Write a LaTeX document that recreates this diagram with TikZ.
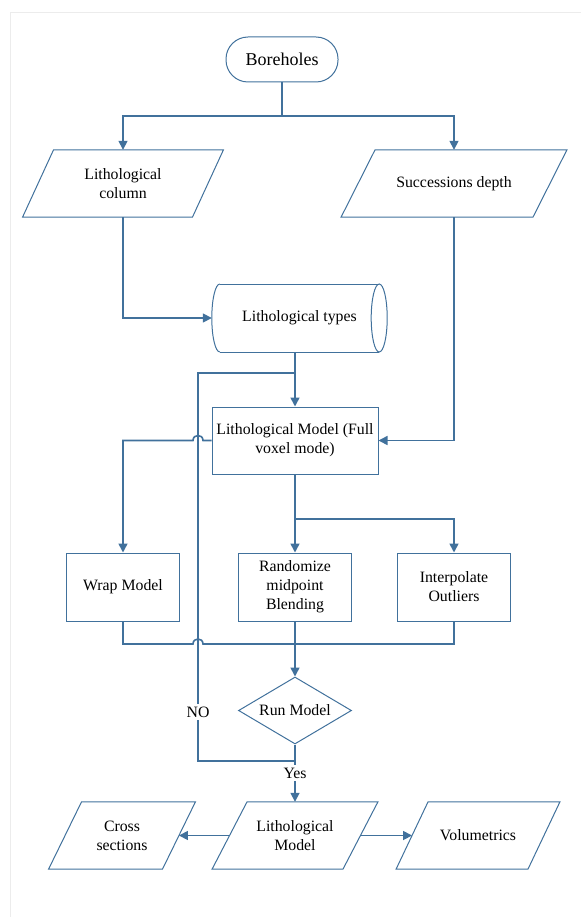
\documentclass[tikz,border=0pt]{standalone}
\usepackage{fontspec}
\setmainfont{Liberation Serif}
\usetikzlibrary{arrows.meta,shapes.geometric,calc}
\definecolor{flow}{RGB}{65,113,156}
\definecolor{frameg}{RGB}{236,236,236}
\tikzset{
  txt/.style={font=\fontsize{15.8}{19}\selectfont, align=center, text=black, inner sep=0pt},
  shp/.style={draw=flow, line width=1pt},
  box/.style={shp, txt, rectangle, minimum width=113pt, minimum height=68pt},
  conn/.style={draw=flow, line width=1.6pt},
  arr/.style={conn, -{Triangle[length=9pt,width=9pt]}},
  lbl/.style={txt, fill=white, inner sep=3pt},
  para/.style={txt, minimum height=67pt},
}
\newcommand\drawpgram[2]{\draw[shp] ([xshift=0.5*#2]#1.north west) -- ([xshift=0.5*#2]#1.north east) -- ([xshift=-0.5*#2]#1.south east) -- ([xshift=-0.5*#2]#1.south west) -- cycle;}
\begin{document}
\begin{tikzpicture}[x=1pt,y=-1pt]
\useasboundingbox (0,0) rectangle (581,917);
\draw[frameg, line width=1pt] (10.5,917) -- (10.5,12.5) -- (581,12.5);

% nodes
\node[txt, shp, font=\fontsize{18}{21}\selectfont, rounded corners=22pt, minimum width=112pt, minimum height=45pt] (bh) at (282,59.5) {Boreholes};
\node[para, minimum width=169.5pt] (litcol) at (123,183.5) {Lithological\\column};
\drawpgram{litcol}{31pt}
\node[para, minimum width=191.5pt] (succ) at (454,183.5) {Successions depth};
\drawpgram{succ}{34pt}

\node[txt, minimum width=175pt, minimum height=68pt] (types) at (299.5,318) {Lithological types};
\draw[shp] ([xshift=8pt,yshift=34pt]types.west) -- ([xshift=-8pt,yshift=34pt]types.east);
\draw[shp] ([xshift=8pt,yshift=-34pt]types.west) -- ([xshift=-8pt,yshift=-34pt]types.east);
\draw[shp] ([xshift=-8pt]types.east) ellipse [x radius=8pt, y radius=34pt];
\draw[shp] ([xshift=8pt,yshift=34pt]types.west) .. controls ([xshift=3.58pt,yshift=34pt]types.west) and ([yshift=18.78pt]types.west) .. (types.west) .. controls ([yshift=-18.78pt]types.west) and ([xshift=3.58pt,yshift=-34pt]types.west) .. ([xshift=8pt,yshift=-34pt]types.west);

\node[box, minimum width=166pt, minimum height=67pt] (full) at (295,440.5) {Lithological Model (Full\\voxel mode)};
\node[box] (wrap) at (123,587) {Wrap Model};
\node[box] (rand) at (295,587) {Randomize\\midpoint\\Blending};
\node[box] (interp) at (454,587) {Interpolate\\Outliers};
\node[txt, shp, diamond, aspect=1.69, minimum width=113pt, minimum height=67pt] (run) at (295,710.5) {Run Model};

\node[para, minimum width=130.5pt] (lm) at (295,835.5) {Lithological\\Model};
\drawpgram{lm}{35pt}
\node[para, minimum width=113.5pt] (cross) at (122,835.5) {Cross\\sections};
\drawpgram{cross}{33pt}
\node[para, minimum width=131.5pt] (vol) at (478,835.5) {Volumetrics};
\drawpgram{vol}{32pt}

% coordinates
\coordinate (split) at (282,116);
\coordinate (hop1) at (198,440.5);
\coordinate (br2) at (295,519);
\coordinate (hop2) at (198,644);
\coordinate (lbr) at (295,761);
\coordinate (lbl) at (198,761);
\coordinate (ltl) at (198,373);
\coordinate (ltr) at (295,373);

% connectors
\draw[arr] (bh.south) -- (split) -| (litcol.north);
\draw[arr] (split) -| (succ.north);
\draw[arr] (litcol.south) |- (types.west);
\draw[arr] (succ.south) |- (full.east);
\draw[arr] (types.south -| full.north) -- (full.north);
\draw[arr] (full.west) -- ([xshift=5pt]hop1) .. controls ([xshift=5pt,yshift=6.7pt]hop1) and ([xshift=-5pt,yshift=6.7pt]hop1) .. ([xshift=-5pt]hop1) -| (wrap.north);
\draw[arr] (full.south) -- (rand.north);
\draw[arr] (br2) -| (interp.north);
\draw[conn] (wrap.south) |- ([xshift=-5pt]hop2) .. controls ([xshift=-5pt,yshift=6.7pt]hop2) and ([xshift=5pt,yshift=6.7pt]hop2) .. ([xshift=5pt]hop2) -| (interp.south);
\draw[arr] (rand.south) -- (run.north);
\draw[conn] (run.south) -- (lbr) -- (lbl) -- (ltl) -- (ltr);
\draw[arr] (lbr) -- (lm.north);
\draw[arr] (lm.west) -- (cross.east);
\draw[arr] (lm.east) -- (vol.west);

\node[lbl] (no) at (198,712) {NO};
\node[lbl] (yes) at (295,773) {Yes};
\end{tikzpicture}
\end{document}
